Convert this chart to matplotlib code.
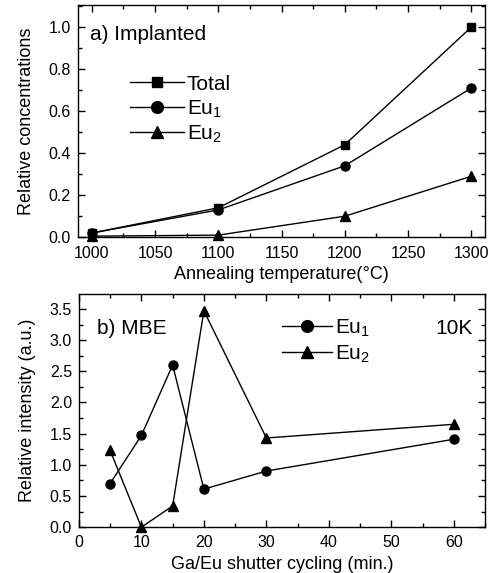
import matplotlib
matplotlib.use('Agg')
import matplotlib.pyplot as plt
from matplotlib.ticker import MultipleLocator

plt.rcParams['font.family'] = ['Liberation Sans', 'DejaVu Sans']
plt.rcParams['mathtext.fontset'] = 'custom'
plt.rcParams['mathtext.rm'] = 'Liberation Sans'

# panel a) implanted
temps = [1000, 1100, 1200, 1300]
total = [0.02, 0.14, 0.44, 1.00]
eu1_a = [0.02, 0.13, 0.34, 0.71]
eu2_a = [0.005, 0.01, 0.10, 0.29]

# panel b) MBE
cycling = [5, 10, 15, 20, 30, 60]
eu1_b = [0.70, 1.47, 2.60, 0.61, 0.90, 1.41]
eu2_b = [1.23, 0.00, 0.34, 3.47, 1.43, 1.65]

fig = plt.figure(figsize=(4.93, 5.73), dpi=100)
ax1 = fig.add_axes([0.158, 0.586, 0.826, 0.405])
ax2 = fig.add_axes([0.160, 0.080, 0.824, 0.407])

lw = 1.0
ax1.plot(temps, total, '-s', color='black', lw=lw, ms=6, label='Total', clip_on=False, zorder=3)
ax1.plot(temps, eu1_a, '-o', color='black', lw=lw, ms=6.5, label=r'Eu$_\mathregular{1}$', clip_on=False, zorder=3)
ax1.plot(temps, eu2_a, '-^', color='black', lw=lw, ms=7, label=r'Eu$_\mathregular{2}$', clip_on=False, zorder=3)
ax1.set_xlim(989, 1311)
ax1.set_ylim(0, 1.105)
ax1.xaxis.set_major_locator(MultipleLocator(50))
ax1.xaxis.set_minor_locator(MultipleLocator(25))
ax1.yaxis.set_major_locator(MultipleLocator(0.2))
ax1.yaxis.set_minor_locator(MultipleLocator(0.1))
ax1.yaxis.set_major_formatter(matplotlib.ticker.FormatStrFormatter('%.1f'))
ax1.set_xlabel('Annealing temperature(°C)', fontsize=13, labelpad=4)
ax1.set_ylabel('Relative concentrations', fontsize=13, labelpad=10)
ax1.text(0.03, 0.915, 'a) Implanted', transform=ax1.transAxes, fontsize=15, va='top')
ax1.legend(loc='upper left', bbox_to_anchor=(0.127, 0.70), frameon=False, fontsize=15,
           handlelength=2.6, handletextpad=0.15, labelspacing=0.2, markerscale=1.3,
           borderaxespad=0, borderpad=0)

ax2.plot(cycling, eu1_b, '-o', color='black', lw=lw, ms=6.5, label=r'Eu$_\mathregular{1}$', clip_on=False, zorder=3)
ax2.plot(cycling, eu2_b, '-^', color='black', lw=lw, ms=7, label=r'Eu$_\mathregular{2}$', clip_on=False, zorder=3)
ax2.set_xlim(0, 65)
ax2.set_ylim(0, 3.74)
ax2.xaxis.set_major_locator(MultipleLocator(10))
ax2.xaxis.set_minor_locator(MultipleLocator(5))
ax2.yaxis.set_major_locator(MultipleLocator(0.5))
ax2.yaxis.set_minor_locator(MultipleLocator(0.25))
ax2.yaxis.set_major_formatter(matplotlib.ticker.FormatStrFormatter('%.1f'))
ax2.set_xlabel('Ga/Eu shutter cycling (min.)', fontsize=13, labelpad=4)
ax2.set_ylabel('Relative intensity (a.u.)', fontsize=13, labelpad=10)
ax2.text(0.045, 0.85, 'b) MBE', transform=ax2.transAxes, fontsize=15, va='center')
ax2.text(0.97, 0.85, '10K', transform=ax2.transAxes, fontsize=15, va='center', ha='right')
ax2.legend(loc='upper left', bbox_to_anchor=(0.5, 0.90), frameon=False, fontsize=15,
           handlelength=2.4, handletextpad=0.15, labelspacing=0.2, markerscale=1.3,
           borderaxespad=0, borderpad=0)

for ax in (ax1, ax2):
    ax.tick_params(which='both', direction='in', top=True, right=True, labelsize=11.5)
    ax.tick_params(axis='x', which='both', pad=6)
    ax.tick_params(axis='y', which='both', pad=5)
    ax.tick_params(which='major', length=5, width=1)
    ax.tick_params(which='minor', length=3, width=1)
    for s in ax.spines.values():
        s.set_linewidth(1)

fig.savefig('out.png', dpi=100)
